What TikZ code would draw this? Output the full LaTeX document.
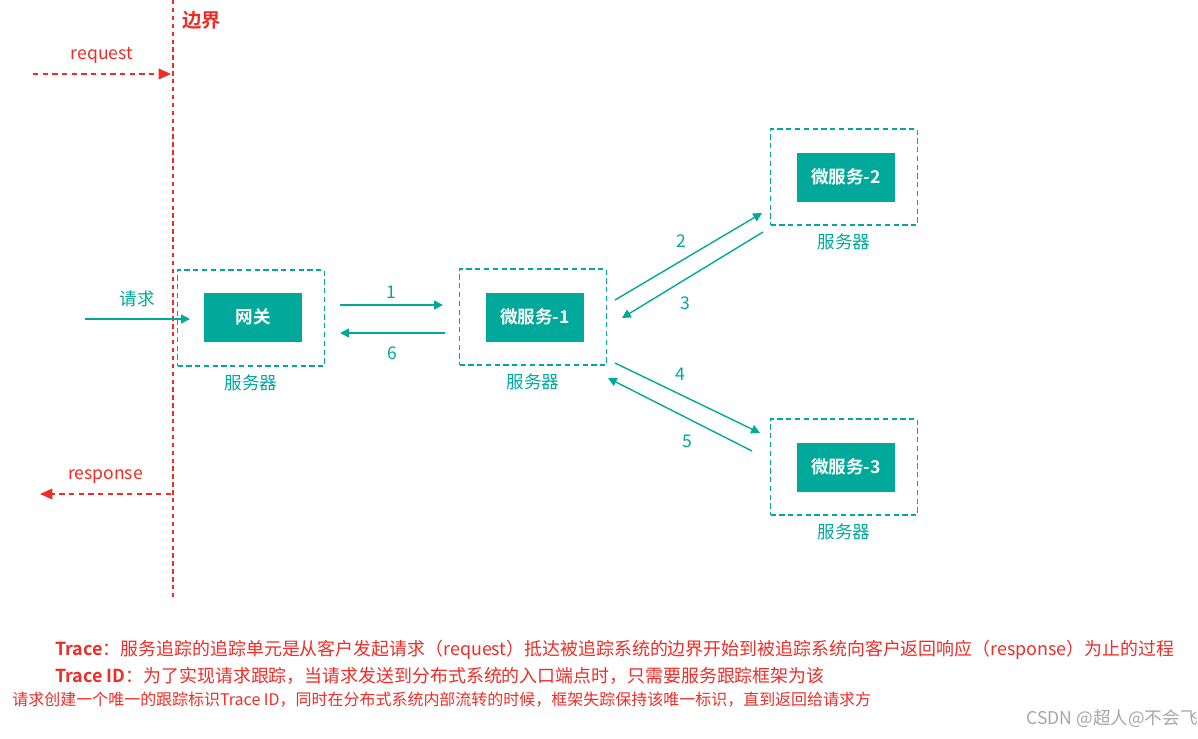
\documentclass[tikz,border=0pt]{standalone}
\usepackage{fontspec}
\setmainfont{Noto Sans CJK SC}[BoldFont={Noto Sans CJK SC Bold}]
\usepackage{tikz}
\usetikzlibrary{positioning,arrows.meta}
\definecolor{teal1}{HTML}{00A99A}
\definecolor{red1}{HTML}{EC2D28}

\tikzset{
    server/.style={draw=teal1, densely dashed, line width=0.9pt, minimum width=2.94cm, minimum height=1.92cm},
    svc/.style={fill=teal1, text=white, font=\bfseries\fontsize{10}{12}\selectfont, minimum width=1.98cm, minimum height=0.98cm},
    tag/.style={text=teal1, font=\fontsize{10}{12}\selectfont},
    flow/.style={teal1, line width=0.8pt, -{Triangle[length=5pt,width=5pt]}},
    edge/.style={red1, line width=1pt, dash pattern=on 3pt off 2.5pt, -{Triangle[length=7pt,width=6pt]}}
}

\begin{document}
\begin{tikzpicture}[x=0.02cm, y=-0.02cm]
    \useasboundingbox (0,0) rectangle (1198,738);

    % Boundary
    \coordinate (top) at (173,0);
    \coordinate (bot) at (173,600);
    \draw[red1, line width=1.2pt, dash pattern=on 2.5pt off 2pt] (top) -- (bot);
    \node[red1, font=\bfseries\fontsize{11}{13}\selectfont, anchor=west] (edgelbl) at (176,20) {边界};

    \coordinate (reqa) at (33,74);
    \coordinate (reqb) at (171,74);
    \draw[edge] (reqa) -- (reqb) node[midway, above=2pt, font=\fontsize{10}{12}\selectfont] {request};
    \coordinate (resa) at (171,494);
    \coordinate (resb) at (40,494);
    \draw[edge] (resa) -- (resb) node[midway, above=2pt, font=\fontsize{10}{12}\selectfont] {response};

    % Servers
    \node[server] (gwbox) at (251,318) {};
    \node[svc] (gw) at (253,317) {网关};
    \node[tag, below=1pt of gwbox] {服务器};

    \node[server] (s1box) at (533,317) {};
    \node[svc] (s1) at (535,317) {微服务-1};
    \node[tag, below=1pt of s1box] {服务器};

    \node[server] (s2box) at (844,177) {};
    \node[svc] (s2) at (846,177) {微服务-2};
    \node[tag, below=1pt of s2box] {服务器};

    \node[server] (s3box) at (844,467) {};
    \node[svc] (s3) at (846,467) {微服务-3};
    \node[tag, below=1pt of s3box] {服务器};

    % Calls
    \coordinate (in) at (85,319);
    \draw[flow] (in) -- (190,319) node[tag, midway, above=3pt] {请求};
    \draw[flow] (340,305) -- (443,305) node[tag, midway, above] {1};
    \draw[flow] (445,333) -- (340,333) node[tag, midway, below=4pt] {6};
    \draw[flow] (615,300) -- (762,213) node[tag, pos=0.45, above=4pt] {2};
    \draw[flow] (763,232) -- (622,318) node[tag, pos=0.55, below=6pt] {3};
    \draw[flow] (615,363) -- (760,433) node[tag, pos=0.45, above=4pt] {4};
    \draw[flow] (752,451) -- (608,378) node[tag, pos=0.45, below=6pt] {5};

    % Notes
    \node[red1, anchor=west, inner sep=0, font=\fontsize{10.2}{12}\selectfont] (n1) at (55,650) {\textbf{Trace}：服务追踪的追踪单元是从客户发起请求（request）抵达被追踪系统的边界开始到被追踪系统向客户返回响应（response）为止的过程};
    \node[red1, anchor=west, inner sep=0, font=\fontsize{10.2}{12}\selectfont] (n2) at (55,676) {\textbf{Trace ID}：为了实现请求跟踪，当请求发送到分布式系统的入口端点时，只需要服务跟踪框架为该};
    \node[red1, anchor=west, inner sep=0, font=\fontsize{9.1}{11}\selectfont] (n3) at (12,700) {请求创建一个唯一的跟踪标识Trace ID，同时在分布式系统内部流转的时候，框架失踪保持该唯一标识，直到返回给请求方};
    \node[gray!70, anchor=east, inner sep=0, font=\fontsize{10}{12}\selectfont] (mark) at (1198,719) {CSDN @超人@不会飞};
\end{tikzpicture}
\end{document}
